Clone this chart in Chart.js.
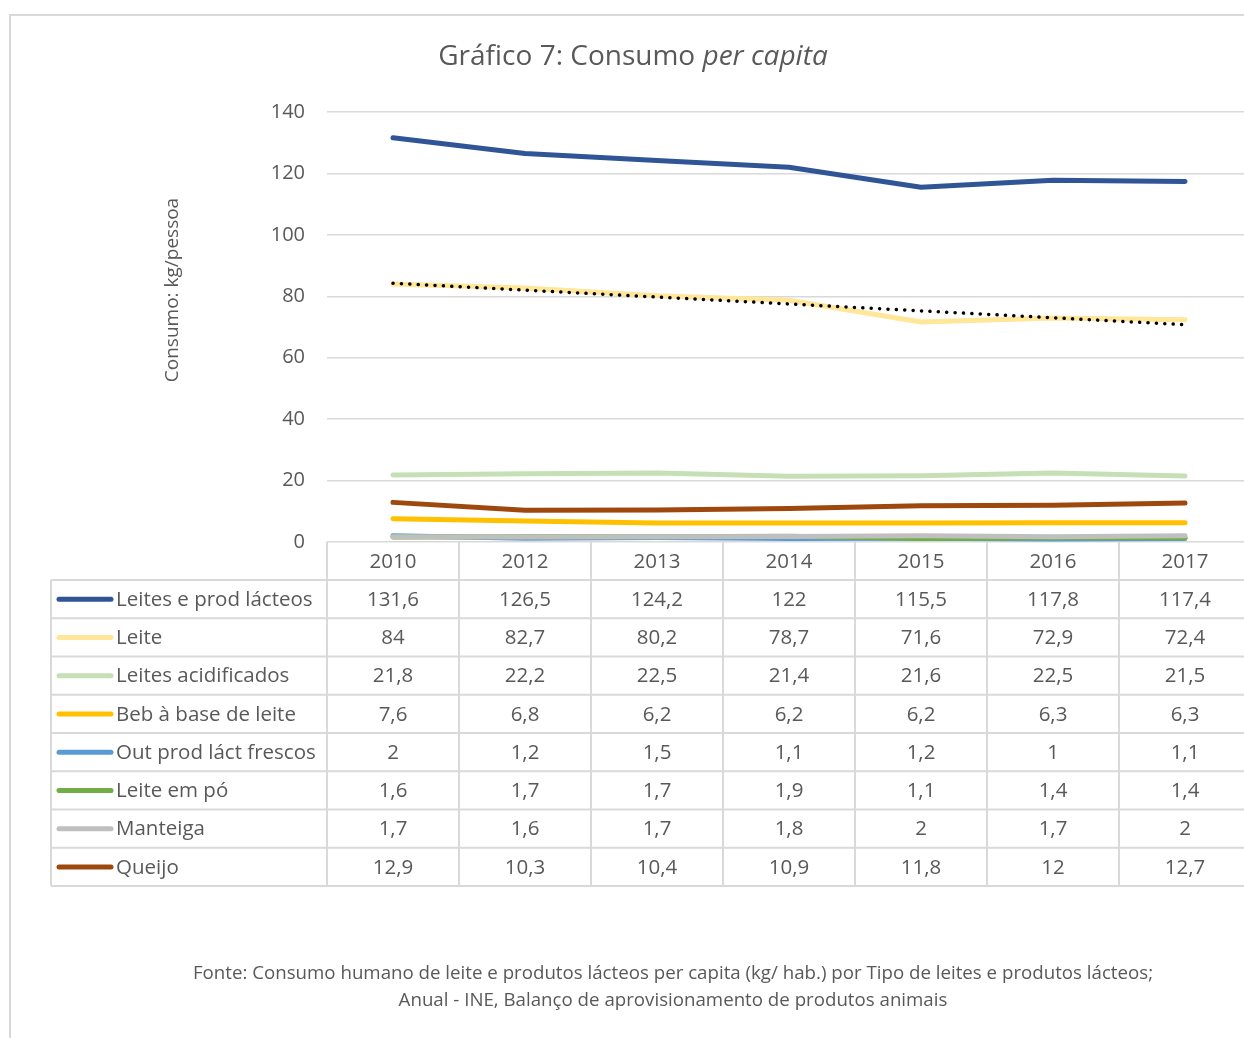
<!DOCTYPE html>
<html lang="pt">
<head>
<meta charset="UTF-8"/>
<title>Gráfico 7: Consumo per capita</title>
<script src="https://cdn.jsdelivr.net/npm/chart.js@4.4.1/dist/chart.umd.min.js"></script>
<style>
    html, body { margin: 0; padding: 0; background: #fff; overflow: hidden; }
    #wrap { position: absolute; left: 0; top: 0; width: 1260px; height: 1038px; }
</style>
</head>
<body>
<div id="wrap"><canvas id="consumoChart"></canvas></div>
<script>
    const years = ['2010', '2012', '2013', '2014', '2015', '2016', '2017'];
    const yTicks = [0, 20, 40, 60, 80, 100, 120, 140];

    const leitesProdLacteos = [131.6, 126.5, 124.2, 122, 115.5, 117.8, 117.4];
    const leite = [84, 82.7, 80.2, 78.7, 71.6, 72.9, 72.4];
    const leitesAcidificados = [21.8, 22.2, 22.5, 21.4, 21.6, 22.5, 21.5];
    const bebBaseLeite = [7.6, 6.8, 6.2, 6.2, 6.2, 6.3, 6.3];
    const outProdLactFrescos = [2, 1.2, 1.5, 1.1, 1.2, 1, 1.1];
    const leiteEmPo = [1.6, 1.7, 1.7, 1.9, 1.1, 1.4, 1.4];
    const manteiga = [1.7, 1.6, 1.7, 1.8, 2, 1.7, 2];
    const queijo = [12.9, 10.3, 10.4, 10.9, 11.8, 12, 12.7];

    const series = [
        {label: 'Leites e prod lácteos', data: leitesProdLacteos, color: '#2f5597'},
        {label: 'Leite', data: leite, color: '#ffe699'},
        {label: 'Leites acidificados', data: leitesAcidificados, color: '#c5e0b4'},
        {label: 'Beb à base de leite', data: bebBaseLeite, color: '#ffc000'},
        {label: 'Out prod láct frescos', data: outProdLactFrescos, color: '#5b9bd5'},
        {label: 'Leite em pó', data: leiteEmPo, color: '#70ad47'},
        {label: 'Manteiga', data: manteiga, color: '#bfbfbf'},
        {label: 'Queijo', data: queijo, color: '#9e480e'}
    ];

    // linear trendline for "Leite" (least squares, like the spreadsheet trendline)
    function linearTrend(values) {
        const n = values.length;
        const mx = (n + 1) / 2;
        const my = values.reduce((a, b) => a + b, 0) / n;
        let sxy = 0, sxx = 0;
        values.forEach((v, i) => {
            sxy += (i + 1 - mx) * (v - my);
            sxx += (i + 1 - mx) * (i + 1 - mx);
        });
        const slope = sxy / sxx;
        return values.map((_, i) => my + slope * (i + 1 - mx));
    }

    const textColor = '#595959';
    const lineColor = '#d9d9d9';
    const fontFamily = '"Open Sans", sans-serif';

    const fmt = (v) => String(v).replace('.', ',');

    const decorPlugin = {
        id: 'decor',
        beforeDraw(chart) {
            const ctx = chart.ctx;
            ctx.save();
            // outer frame
            ctx.strokeStyle = lineColor;
            ctx.lineWidth = 2;
            ctx.beginPath();
            ctx.moveTo(10, 1038);
            ctx.lineTo(10, 15);
            ctx.lineTo(1260, 15);
            ctx.stroke();

            // title with italic part
            const t1 = 'Gráfico 7: Consumo ';
            const t2 = 'per capita';
            ctx.fillStyle = textColor;
            ctx.textBaseline = 'alphabetic';
            ctx.font = '28px ' + fontFamily;
            const w1 = ctx.measureText(t1).width;
            ctx.font = 'italic 28px ' + fontFamily;
            const w2 = ctx.measureText(t2).width;
            const x0 = 633 - (w1 + w2) / 2;
            ctx.font = '28px ' + fontFamily;
            ctx.textAlign = 'left';
            ctx.fillText(t1, x0, 65);
            ctx.font = 'italic 28px ' + fontFamily;
            ctx.fillText(t2, x0 + w1, 65);

            // y axis title
            ctx.save();
            ctx.translate(173, 290);
            ctx.rotate(-Math.PI / 2);
            ctx.font = '19px ' + fontFamily;
            ctx.textAlign = 'center';
            ctx.textBaseline = 'middle';
            ctx.fillText('Consumo: kg/pessoa', 0, 0);
            ctx.restore();

            // source note
            ctx.font = '18.7px ' + fontFamily;
            ctx.textAlign = 'center';
            ctx.fillText('Fonte: Consumo humano de leite e produtos lácteos per capita (kg/ hab.) por Tipo de leites e produtos lácteos;', 673, 979);
            ctx.fillText('Anual - INE, Balanço de aprovisionamento de produtos animais', 673, 1006);
            ctx.restore();
        },
        afterDraw(chart) {
            const ctx = chart.ctx;
            const xs = chart.scales.x;
            const area = chart.chartArea;
            const band = xs.getPixelForValue(1) - xs.getPixelForValue(0);
            const top = area.bottom;
            const headH = 38;
            const rowH = 38.25;
            const tableLeft = 51;
            const bottom = top + headH + rowH * series.length;

            ctx.save();
            ctx.strokeStyle = lineColor;
            ctx.lineWidth = 2;
            // vertical column lines
            for (let i = 0; i <= years.length; i++) {
                const x = xs.getPixelForValue(0) - band / 2 + i * band;
                ctx.beginPath();
                ctx.moveTo(x, top);
                ctx.lineTo(x, bottom);
                ctx.stroke();
            }
            // left edge of the label column
            ctx.beginPath();
            ctx.moveTo(tableLeft, top + headH);
            ctx.lineTo(tableLeft, bottom);
            ctx.stroke();
            // row lines
            for (let r = 0; r <= series.length; r++) {
                const y = top + headH + r * rowH;
                ctx.beginPath();
                ctx.moveTo(tableLeft, y);
                ctx.lineTo(area.right, y);
                ctx.stroke();
            }

            ctx.fillStyle = textColor;
            ctx.font = '20.5px ' + fontFamily;
            ctx.textBaseline = 'middle';
            ctx.textAlign = 'center';
            years.forEach((yr, i) => {
                ctx.fillText(yr, xs.getPixelForValue(i), top + headH / 2 + 1);
            });

            series.forEach((s, r) => {
                const cy = top + headH + r * rowH + rowH / 2 + 1;
                // legend key
                ctx.strokeStyle = s.color;
                ctx.lineWidth = 5;
                ctx.lineCap = 'round';
                ctx.beginPath();
                ctx.moveTo(59, cy - 1);
                ctx.lineTo(111, cy - 1);
                ctx.stroke();
                ctx.textAlign = 'left';
                ctx.fillText(s.label, 116, cy);
                ctx.textAlign = 'center';
                s.data.forEach((v, i) => {
                    ctx.fillText(fmt(v), xs.getPixelForValue(i), cy);
                });
            });
            ctx.restore();
        }
    };

    const datasets = series.map((s, i) => ({
        label: s.label,
        data: s.data,
        borderColor: s.color,
        backgroundColor: s.color,
        borderWidth: 5,
        borderCapStyle: 'round',
        borderJoinStyle: 'round',
        pointRadius: 0,
        tension: 0,
        order: 20 - i
    }));
    datasets.push({
        label: 'Linear (Leite)',
        data: linearTrend(leite),
        borderColor: '#000000',
        borderWidth: 3.5,
        borderDash: [0.1, 8.3],
        borderCapStyle: 'round',
        pointRadius: 0,
        order: 0
    });

    new Chart(document.getElementById('consumoChart'), {
        type: 'line',
        data: {labels: years, datasets: datasets},
        plugins: [decorPlugin],
        options: {
            responsive: true,
            maintainAspectRatio: false,
            animation: false,
            layout: {padding: {left: 150, top: 112, right: 9, bottom: 496}},
            plugins: {
                legend: {display: false},
                title: {display: false},
                tooltip: {enabled: false}
            },
            scales: {
                x: {
                    display: false,
                    offset: true
                },
                y: {
                    min: 0,
                    max: 140,
                    afterFit: (scale) => { scale.width = 177; },
                    afterBuildTicks: (scale) => { scale.ticks = yTicks.map(v => ({value: v})); },
                    border: {display: false},
                    grid: {color: lineColor, lineWidth: 1.5, drawTicks: false},
                    ticks: {
                        color: textColor,
                        padding: 22,
                        font: {size: 20, family: fontFamily}
                    }
                }
            }
        }
    });
</script>
</body>
</html>
